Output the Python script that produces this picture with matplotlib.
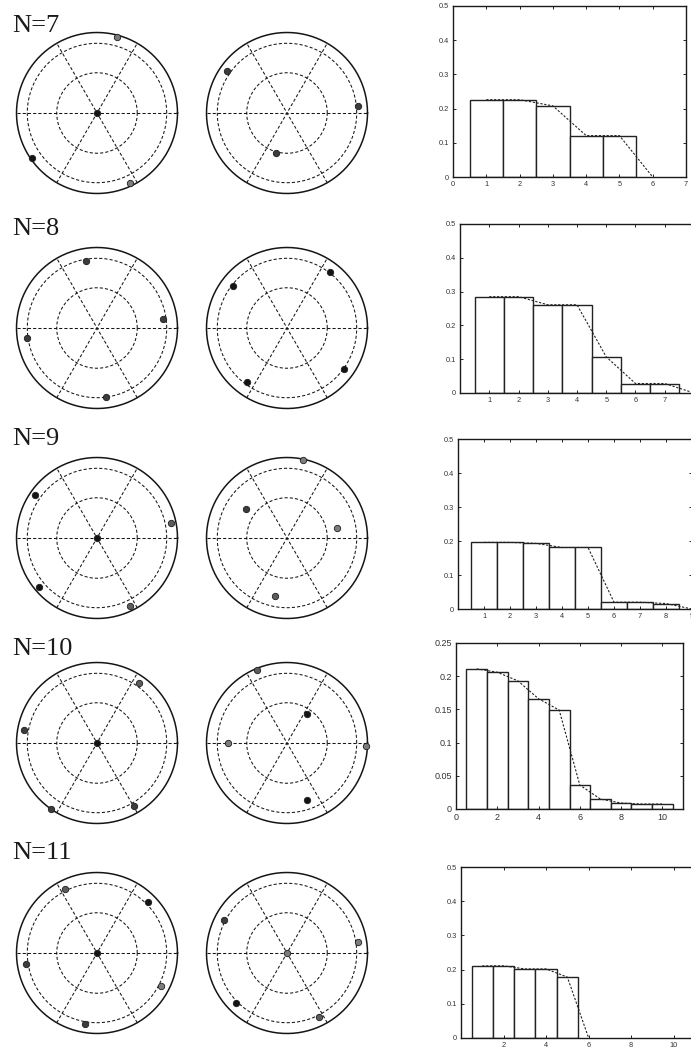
#%%
import numpy as np
import matplotlib
matplotlib.use("Agg")
import matplotlib.pyplot as plt

#%% data

labels = ["N=7", "N=8", "N=9", "N=10", "N=11"]

# particle positions in each disk (outer circle radius = 1), shade per dot
a7_x = [0.0, 0.247, -0.804, 0.404]
a7_y = [0.0, 0.940, -0.553, -0.874]
a7_c = ["k", "l", "k", "l"]
b7_x = [-0.744, 0.888, -0.136]
b7_y = [0.521, 0.083, -0.496]
b7_c = ["d", "d", "d"]

a8_x = [-0.140, 0.826, -0.864, 0.107]
a8_y = [0.835, 0.116, -0.124, -0.860]
a8_c = ["d", "d", "d", "d"]
b8_x = [0.533, -0.665, 0.702, -0.496]
b8_y = [0.694, 0.517, -0.508, -0.674]
b8_c = ["k", "k", "k", "k"]

a9_x = [0.0, -0.769, 0.917, -0.719, 0.405]
a9_y = [0.0, 0.537, 0.182, -0.607, -0.847]
a9_c = ["k", "k", "m", "k", "m"]
b9_x = [0.202, -0.508, 0.616, -0.153]
b9_y = [0.967, 0.360, 0.124, -0.723]
b9_c = ["l", "d", "l", "m"]

a10_x = [0.0, 0.521, -0.901, -0.574, 0.455]
a10_y = [0.0, 0.748, 0.157, -0.814, -0.785]
a10_c = ["k", "m", "d", "d", "d"]
b10_x = [-0.372, 0.252, -0.736, 0.983, 0.248]
b10_y = [0.905, 0.355, -0.004, -0.041, -0.702]
b10_c = ["m", "k", "l", "l", "k"]

a11_x = [0.0, -0.397, 0.636, -0.880, 0.789, -0.145]
a11_y = [0.0, 0.798, 0.628, -0.132, -0.409, -0.876]
a11_c = ["k", "m", "k", "d", "l", "d"]
b11_x = [0.0, -0.785, 0.880, -0.632, 0.393]
b11_y = [0.0, 0.413, 0.136, -0.620, -0.793]
b11_c = ["l", "d", "l", "k", "m"]

# histogram bars (bin 1..n) and dashed curve values (at 1..m)
hist7 = [0.226, 0.226, 0.207, 0.121, 0.121]
curve7 = [0.226, 0.226, 0.208, 0.121, 0.121, 0.0]
hist8 = [0.285, 0.285, 0.261, 0.261, 0.107, 0.028, 0.028]
curve8 = [0.285, 0.285, 0.261, 0.261, 0.107, 0.028, 0.028, 0.0]
hist9 = [0.196, 0.196, 0.193, 0.181, 0.181, 0.020, 0.020, 0.016]
curve9 = [0.196, 0.196, 0.193, 0.181, 0.181, 0.020, 0.020, 0.016, 0.0]
hist10 = [0.211, 0.206, 0.193, 0.166, 0.149, 0.036, 0.015, 0.009, 0.0075, 0.0075]
curve10 = [0.211, 0.206, 0.193, 0.166, 0.149, 0.036, 0.015, 0.009, 0.0075, 0.0075]
hist11 = [0.211, 0.211, 0.202, 0.202, 0.178]
curve11 = [0.211, 0.211, 0.202, 0.202, 0.178, 0.0]

xticks7 = [0, 1, 2, 3, 4, 5, 6, 7]
xlabels7 = ["0", "1", "2", "3", "4", "5", "6", "7"]
xticks8 = [1, 2, 3, 4, 5, 6, 7, 8]
xlabels8 = ["1", "2", "3", "4", "5", "6", "7", ""]
xticks9 = [1, 2, 3, 4, 5, 6, 7, 8, 9]
xlabels9 = ["1", "2", "3", "4", "5", "6", "7", "8", "9"]
xticks10 = [0, 2, 4, 6, 8, 10]
xlabels10 = ["0", "2", "4", "6", "8", "10"]
xticks11 = [2, 4, 6, 8, 10]
xlabels11 = ["2", "4", "6", "8", "10"]
yticks_05 = [0, 0.1, 0.2, 0.3, 0.4, 0.5]
ylabels_05 = ["0", "0.1", "0.2", "0.3", "0.4", "0.5"]
yticks_025 = [0, 0.05, 0.1, 0.15, 0.2, 0.25]
ylabels_025 = ["0", "0.05", "0.1", "0.15", "0.2", "0.25"]

#%% layout (pixels of a 691x1053 canvas)

W, H = 691, 1053
fig = plt.figure(figsize=(W / 100, H / 100), dpi=100)

def box(l, t, r, b):
    return [l / W, 1 - b / H, (r - l) / W, (b - t) / H]

shade = {"k": "#141414", "d": "#3c3c3c", "m": "#5c5c5c", "l": "#7c7c7c"}
R = 80.5
row_y = [113, 328, 538, 743, 953]
col_x = [97, 287]
label_base = [32, 235, 445, 655, 859]

disks = [
    [(a7_x, a7_y, a7_c), (b7_x, b7_y, b7_c)],
    [(a8_x, a8_y, a8_c), (b8_x, b8_y, b8_c)],
    [(a9_x, a9_y, a9_c), (b9_x, b9_y, b9_c)],
    [(a10_x, a10_y, a10_c), (b10_x, b10_y, b10_c)],
    [(a11_x, a11_y, a11_c), (b11_x, b11_y, b11_c)],
]

def draw_disk(ax, xs, ys, cs):
    t = np.linspace(0, 2 * np.pi, 300)
    ax.plot(np.cos(t), np.sin(t), color="#151515", lw=1.1)
    for r in [0.5, 0.866]:
        ax.plot(r * np.cos(t), r * np.sin(t), color="#151515", lw=0.75, ls=(0, (3, 2)))
    for a in np.radians([0, 60, 120]):
        ax.plot([-np.cos(a), np.cos(a)], [-np.sin(a), np.sin(a)],
                color="#151515", lw=0.75, ls=(0, (3, 2)))
    for x, y, c in zip(xs, ys, cs):
        ax.plot(x, y, "o", ms=4.6, mfc=shade[c], mec="#1e1e1e", mew=0.6, zorder=5)
    ax.set_xlim(-1.05, 1.05)
    ax.set_ylim(-1.05, 1.05)
    ax.set_aspect("equal")
    ax.axis("off")

for i in range(5):
    fig.text(12 / W, 1 - label_base[i] / H, labels[i], family="Liberation Serif",
             fontsize=19, va="baseline", color="#1a1a1a")
    for j in range(2):
        cx, cy = col_x[j], row_y[i]
        ax = fig.add_axes(box(cx - 1.05 * R, cy - 1.05 * R, cx + 1.05 * R, cy + 1.05 * R))
        xs, ys, cs = disks[i][j]
        draw_disk(ax, xs, ys, cs)

#%% histograms

hists = [
    (hist7, curve7, xticks7, xlabels7, yticks_05, ylabels_05, 7, 0.5, (453, 6, 686, 177), 5.3),
    (hist8, curve8, xticks8, xlabels8, yticks_05, ylabels_05, 8, 0.5, (460, 224, 694, 393), 5.3),
    (hist9, curve9, xticks9, xlabels9, yticks_05, ylabels_05, 9, 0.5, (458, 439, 692, 609), 5.3),
    (hist10, curve10, xticks10, xlabels10, yticks_025, ylabels_025, 11, 0.25, (456, 643, 683, 809), 6.5),
    (hist11, curve11, xticks11, xlabels11, yticks_05, ylabels_05, 11, 0.5, (461, 867, 695, 1038), 5.3),
]

for vals, curve, xt, xl, yt, yl, xmax, ymax, (l, t, r, b), fs in hists:
    ax = fig.add_axes(box(l, t, r, b))
    bins = np.arange(1, len(vals) + 1)
    ax.bar(bins, vals, width=1.0, facecolor="white", edgecolor="#222222", lw=1.0)
    ax.plot(np.arange(1, len(curve) + 1), curve, color="#222222", lw=0.8,
            ls=(0, (2, 1.5)), zorder=4)
    ax.set_xlim(0, xmax)
    ax.set_ylim(0, ymax)
    ax.set_xticks(xt)
    ax.set_xticklabels(xl)
    ax.set_yticks(yt)
    ax.set_yticklabels(yl)
    ax.tick_params(direction="in", length=2.5, width=0.6, top=True, right=True,
                   labelsize=fs, labelcolor="#333333", pad=3)
    for sp in ax.spines.values():
        sp.set_linewidth(1.0)
        sp.set_color("#1a1a1a")
    for lab in ax.get_xticklabels() + ax.get_yticklabels():
        lab.set_family("Liberation Sans")

fig.savefig("out.png", dpi=100)
